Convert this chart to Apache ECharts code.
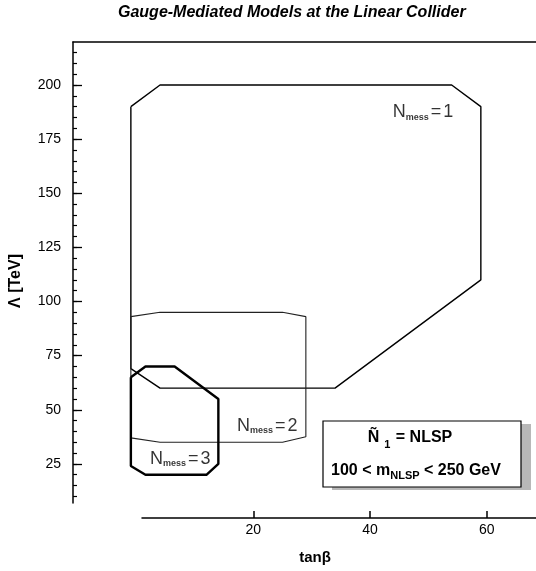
<!DOCTYPE html>
<html>
<head>
<meta charset="utf-8">
<script src="https://cdn.jsdelivr.net/npm/echarts@6/dist/echarts.min.js"></script>
<style>
  html, body { margin: 0; padding: 0; background: #fff; }
  #chart { width: 536px; height: 571px; }
</style>
</head>
<body>
<div id="chart"></div>
<script>
// Closed outlines of the accessible regions in the (tanβ, Λ [TeV]) plane
const messOne   = [[-1, 190], [4, 200], [54, 200], [59, 190], [59, 110], [34, 60], [4, 60], [-1, 69], [-1, 190]];
const messTwo   = [[-1, 93], [4, 95], [25, 95], [29, 93], [29, 37.5], [25, 35], [4, 35], [-1, 37], [-1, 93]];
const messThree = [[-1, 65], [1.5, 70], [6.5, 70], [14, 55], [14, 25], [12, 20], [1.5, 20], [-1, 24], [-1, 65]];

// Region names and where each one is written (tanβ, Λ)
const regionNames = ['1', '2', '3'];
const regionNameAt = [[43.8, 187.5], [17.1, 42.5], [2.2, 27.3]];

// Axis tick values
const xTickValues = [20, 40, 60];
const yMajorTicks = [25, 50, 75, 100, 125, 150, 175, 200];
const yMinorRange = [10, 215, 5];

// Layout: pixel position of tanβ = 0 and Λ = 0, and pixels per unit
const W = 536, H = 571;
const X0 = 136.7, XS = 5.833;
const Y0 = 518, YS = 2.165;
const px = t => X0 + t * XS;
const py = v => Y0 - v * YS;
const FONT = 'Liberation Sans, Arial, Helvetica, sans-serif';

const chart = echarts.init(document.getElementById('chart'), null, { renderer: 'canvas' });

const hiddenX = i => ({ type: 'value', gridIndex: i, show: false, min: 0, max: 1 });
const hiddenY = i => ({ type: 'value', gridIndex: i, show: false, min: 0, max: 1 });

const dataX = [-5, 65], dataY = [0, 220];

const grids = [
  // 0: plotting area
  { left: px(dataX[0]), right: W - px(dataX[1]), top: py(dataY[1]), bottom: H - py(dataY[0]) },
  // 1: x tick marks and labels
  { left: px(xTickValues[0]), right: W - px(xTickValues[xTickValues.length - 1]), top: 100, bottom: H - Y0 },
  // 2: x axis line
  { left: 142, right: 0, top: 100, bottom: H - Y0 },
  // 3: y major ticks and labels
  { left: 73, right: 100, top: py(yMajorTicks[yMajorTicks.length - 1]), bottom: H - py(yMajorTicks[0]) },
  // 4: y minor ticks
  { left: 73, right: 100, top: py(yMinorRange[1]), bottom: H - py(yMinorRange[0]) },
  // 5: left axis line and top frame line
  { left: 73, right: 0, top: 42, bottom: H - 503 }
];

const xAxes = [
  { type: 'value', gridIndex: 0, show: false, min: dataX[0], max: dataX[1] },
  {
    type: 'value', gridIndex: 1, min: xTickValues[0], max: xTickValues[xTickValues.length - 1],
    interval: xTickValues[1] - xTickValues[0],
    axisLine: { show: false, onZero: false },
    axisTick: { show: true, inside: true, length: 7, lineStyle: { color: '#000', width: 1.5 } },
    axisLabel: { show: true, margin: 5, color: '#000', fontSize: 14, fontFamily: FONT },
    splitLine: { show: false }
  },
  {
    type: 'value', gridIndex: 2, min: 0, max: 1,
    axisLine: { show: true, onZero: false, lineStyle: { color: '#000', width: 1.5 } },
    axisTick: { show: false }, axisLabel: { show: false }, splitLine: { show: false }
  },
  hiddenX(3),
  hiddenX(4),
  {
    type: 'value', gridIndex: 5, position: 'top', min: 0, max: 1,
    axisLine: { show: true, onZero: false, lineStyle: { color: '#000', width: 1.5 } },
    axisTick: { show: false }, axisLabel: { show: false }, splitLine: { show: false }
  }
];

const yAxes = [
  { type: 'value', gridIndex: 0, show: false, min: dataY[0], max: dataY[1] },
  hiddenY(1),
  hiddenY(2),
  {
    type: 'value', gridIndex: 3, min: yMajorTicks[0], max: yMajorTicks[yMajorTicks.length - 1],
    interval: yMajorTicks[1] - yMajorTicks[0],
    axisLine: { show: false, onZero: false },
    axisTick: { show: true, inside: true, length: 9, lineStyle: { color: '#000', width: 1.3 } },
    axisLabel: { show: true, margin: 12, color: '#000', fontSize: 14, fontFamily: FONT },
    splitLine: { show: false }
  },
  {
    type: 'value', gridIndex: 4, min: yMinorRange[0], max: yMinorRange[1], interval: yMinorRange[2],
    axisLine: { show: false, onZero: false },
    axisTick: { show: true, inside: true, length: 4, lineStyle: { color: '#000', width: 1.2 } },
    axisLabel: { show: false }, splitLine: { show: false }
  },
  {
    type: 'value', gridIndex: 5, min: 0, max: 1,
    axisLine: { show: true, onZero: false, lineStyle: { color: '#000', width: 1.5 } },
    axisTick: { show: false }, axisLabel: { show: false }, splitLine: { show: false }
  }
];

const outline = (data, width, color) => ({
  type: 'line', xAxisIndex: 0, yAxisIndex: 0, data: data,
  symbol: 'none', clip: false, silent: true, smooth: false,
  lineStyle: { color: color, width: width }
});

const nameRich = {
  n: { fontSize: 18, lineHeight: 19, color: '#000', fontFamily: FONT },
  s: { fontSize: 9, lineHeight: 9, fontWeight: 'bold', color: '#000', fontFamily: FONT, verticalAlign: 'bottom' },
  e: { fontSize: 18, lineHeight: 19, color: '#000', fontFamily: FONT, padding: [0, 2, 0, 2] }
};

const option = {
  animation: false,
  backgroundColor: '#fff',
  title: {
    text: 'Gauge-Mediated Models at the Linear Collider',
    left: 118, top: 5, padding: 0,
    textStyle: { fontSize: 16, fontWeight: 'bold', fontStyle: 'italic', color: '#000', fontFamily: FONT }
  },
  grid: grids,
  xAxis: xAxes,
  yAxis: yAxes,
  series: [
    outline(messOne, 1.4, '#000'),
    outline(messTwo, 1.1, '#222'),
    outline(messThree, 2.4, '#000'),
    {
      type: 'scatter', xAxisIndex: 0, yAxisIndex: 0, silent: true,
      symbolSize: 1, itemStyle: { color: 'rgba(0,0,0,0)' },
      data: regionNames.map((k, i) => ({ value: regionNameAt[i], name: k })),
      label: {
        show: true, position: 'right', distance: 0,
        formatter: p => '{n|N}{s|mess}{e|=}{n|' + p.name + '}',
        rich: nameRich
      }
    }
  ],
  graphic: [
    { type: 'rect', silent: true, shape: { x: 332, y: 424, width: 199, height: 66 }, style: { fill: '#b8b8b8' } },
    { type: 'rect', silent: true, shape: { x: 323, y: 421, width: 198, height: 66 }, style: { fill: '#fff', stroke: '#000', lineWidth: 1.2 } },
    {
      type: 'text', silent: true, x: 410, y: 438,
      style: {
        text: '{a|Ñ}{b|1}{a| = NLSP}', align: 'center', verticalAlign: 'middle',
        rich: {
          a: { fontSize: 16, lineHeight: 24, fontWeight: 'bold', fill: '#000', fontFamily: FONT },
          b: { fontSize: 11, lineHeight: 10, fontWeight: 'bold', fill: '#000', fontFamily: FONT, verticalAlign: 'bottom', padding: [0, 1, 0, 5] }
        }
      }
    },
    {
      type: 'text', silent: true, x: 416, y: 471,
      style: {
        text: '{a|100 < m}{b|NLSP}{a| < 250 GeV}', align: 'center', verticalAlign: 'middle',
        rich: {
          a: { fontSize: 16, lineHeight: 20, fontWeight: 'bold', fill: '#000', fontFamily: FONT },
          b: { fontSize: 11, lineHeight: 11, fontWeight: 'bold', fill: '#000', fontFamily: FONT, verticalAlign: 'bottom' }
        }
      }
    },
    {
      type: 'text', silent: true, x: 315, y: 558,
      style: { text: 'tanβ', align: 'center', verticalAlign: 'middle', fontSize: 15, fontWeight: 'bold', fill: '#000', fontFamily: FONT }
    },
    {
      type: 'text', silent: true, x: 16, y: 281, rotation: Math.PI / 2,
      style: { text: 'Λ [TeV]', align: 'center', verticalAlign: 'middle', fontSize: 16, fontWeight: 'bold', fill: '#000', fontFamily: FONT }
    }
  ]
};

chart.setOption(option);
</script>
</body>
</html>
